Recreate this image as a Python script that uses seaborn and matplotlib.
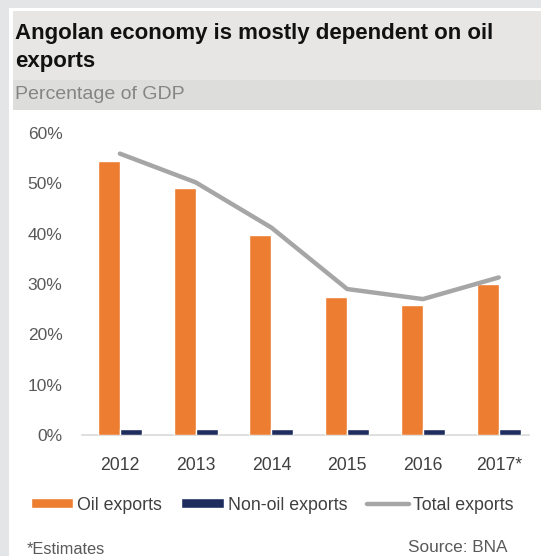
import numpy as np
import pandas as pd
import matplotlib
matplotlib.use("Agg")
import matplotlib.pyplot as plt
import seaborn as sns
from matplotlib.patches import Rectangle
from matplotlib.lines import Line2D
from matplotlib.ticker import FuncFormatter

# data (% of GDP)
years = ["2012", "2013", "2014", "2015", "2016", "2017*"]
oil_exports = [54.5, 49.1, 39.7, 27.5, 25.8, 30.0]
non_oil_exports = [1.1, 1.1, 1.1, 1.1, 1.1, 1.1]
total_exports = [55.9, 50.2, 41.2, 29.0, 27.0, 31.3]

series_names = ["Oil exports", "Non-oil exports"]
colors = ["#ed7d31", "#1f2d5e"]
line_color = "#a6a6a6"
text_gray = "#595959"

df = pd.DataFrame({
    "year": years * 2,
    "value": oil_exports + non_oil_exports,
    "series": [series_names[0]] * len(years) + [series_names[1]] * len(years),
})

sns.set_style("white")
plt.rcParams["font.family"] = ["Liberation Sans", "DejaVu Sans"]

W, H = 541, 556
fig = plt.figure(figsize=(W / 100, H / 100), dpi=100)
fig.patch.set_facecolor("white")

# background blocks (in pixels, top-left origin)
def px_rect(x0, y0, x1, y1, color):
    fig.patches.append(Rectangle((x0 / W, 1 - y1 / H), (x1 - x0) / W, (y1 - y0) / H,
                                 transform=fig.transFigure, facecolor=color,
                                 edgecolor="none", zorder=0))

px_rect(0, 0, W, 8, "#e4e5e7")
px_rect(0, 0, 9, H, "#e4e5e7")
px_rect(13, 11, W, 80, "#e7e6e5")
px_rect(13, 80, W, 110, "#dddedc")

fig.text(15 / W, 1 - 33 / H, "Angolan economy is mostly dependent on oil",
         fontsize=16, fontweight="bold", color="#111111", va="center", ha="left")
fig.text(15 / W, 1 - 61 / H, "exports",
         fontsize=16, fontweight="bold", color="#111111", va="center", ha="left")
fig.text(15 / W, 1 - 94 / H, "Percentage of GDP",
         fontsize=14, color="#858585", va="center", ha="left")

# axes: x -0.5 -> 82px, 5.4 -> 529px ; y 0 -> 435px, 60 -> 133px
ax = fig.add_axes([82 / W, 1 - 435 / H, (529 - 82) / W, (435 - 133) / H])
ax.set_facecolor("none")

sns.barplot(data=df, x="year", y="value", hue="series", palette=colors,
            width=0.58, dodge=True, saturation=1, ax=ax, legend=False)
sns.lineplot(x=years, y=total_exports, color=line_color, linewidth=3.2,
             ax=ax, legend=False, sort=False)

ax.set_xlim(-0.5, 5.4)
ax.set_ylim(0, 60)
ax.set_yticks(np.arange(0, 61, 10))
ax.yaxis.set_major_formatter(FuncFormatter(lambda v, p: f"{v:.0f}%"))
ax.set_xlabel("")
ax.set_ylabel("")
ax.tick_params(axis="y", length=0, pad=14, labelsize=12.5, labelcolor=text_gray)
ax.tick_params(axis="x", length=0, pad=16, labelsize=12.7, labelcolor="#404040")
for side in ["top", "right", "left"]:
    ax.spines[side].set_visible(False)
ax.spines["bottom"].set_color("#d9d9d9")
ax.spines["bottom"].set_linewidth(1.2)
ax.spines["bottom"].set_zorder(0.5)

# legend
handles = [
    Rectangle((0, 0), 1, 1, facecolor=colors[0]),
    Rectangle((0, 0), 1, 1, facecolor=colors[1]),
    Line2D([0], [0], color=line_color, linewidth=3.2),
]
fig.legend(handles, ["Oil exports", "Non-oil exports", "Total exports"],
           loc="center", bbox_to_anchor=(272 / W, 1 - 505 / H), ncol=3,
           frameon=False, fontsize=12.8, handlelength=2.4, handleheight=0.5,
           handletextpad=0.2, columnspacing=1.1, labelcolor="#404040")

fig.text(27 / W, 1 - 550 / H, "*Estimates", fontsize=11.8, color=text_gray,
         va="center", ha="left")
fig.text(507 / W, 1 - 548 / H, "Source: BNA", fontsize=12.4, color=text_gray,
         va="center", ha="right")

fig.savefig("out.png", dpi=100)
